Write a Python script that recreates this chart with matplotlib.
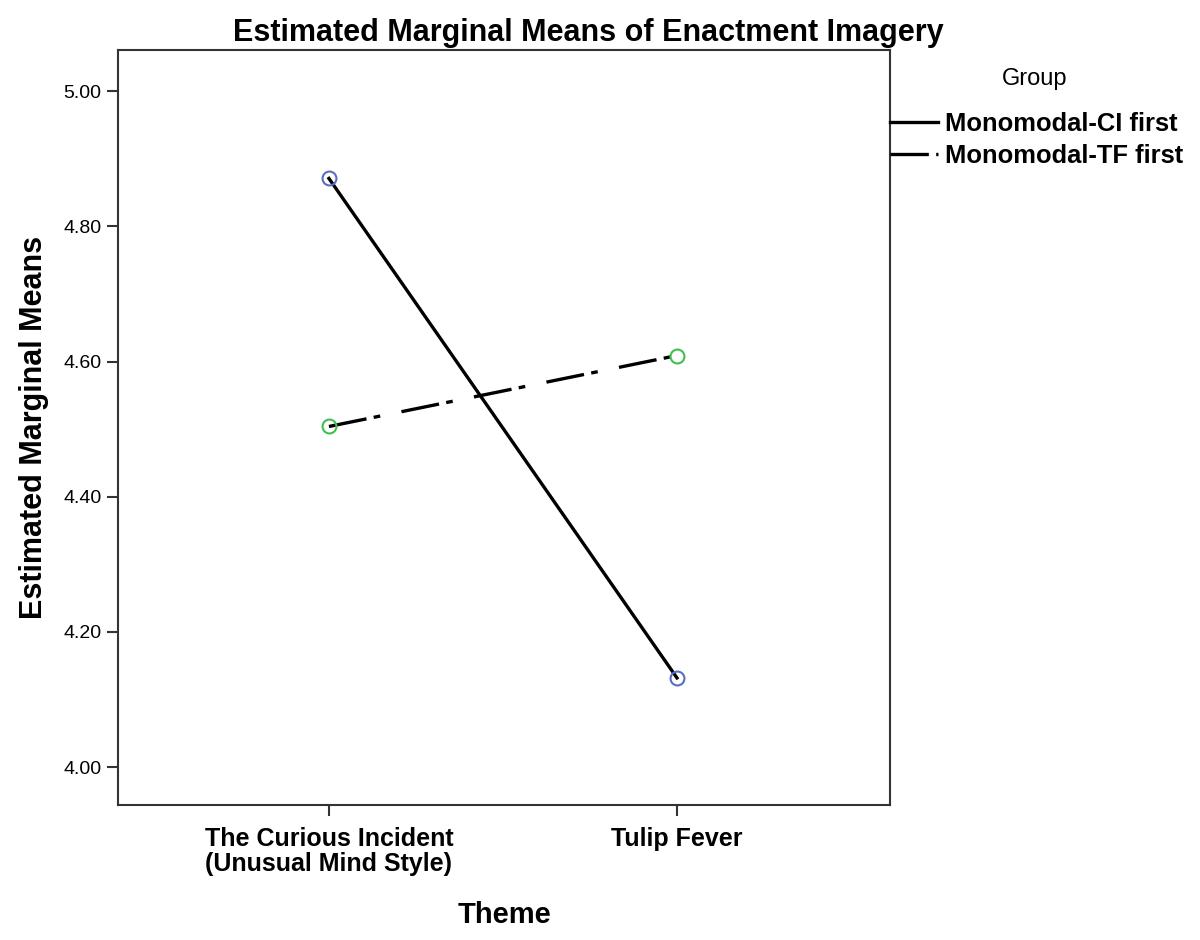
import matplotlib
matplotlib.use("Agg")
import matplotlib.pyplot as plt
from matplotlib.lines import Line2D

categories = ["The Curious Incident\n(Unusual Mind Style)", "Tulip Fever"]
groups = ["Monomodal-CI first", "Monomodal-TF first"]
ci_first = [4.871, 4.132]
tf_first = [4.504, 4.609]
yticks = [4.00, 4.20, 4.40, 4.60, 4.80, 5.00]

plt.rcParams['font.family'] = ['Liberation Sans', 'DejaVu Sans']

DASHDOT = (0, (11.5, 2.2, 2.0, 6.5))

fig = plt.figure(figsize=(12, 9.4), dpi=100)
ax = fig.add_axes([118/1200, 1-805/940, (890-118)/1200, (805-50)/940])

x = list(range(len(categories)))
ax.plot(x, ci_first, color='black', lw=2.4, linestyle='-', zorder=2)
ax.plot(x, tf_first, color='black', lw=2.4, linestyle=DASHDOT, zorder=2)
ax.plot(x, ci_first, linestyle='none', marker='o', ms=10, mfc='none', mec='#5a6cc4', mew=1.5, zorder=3)
ax.plot(x, tf_first, linestyle='none', marker='o', ms=10, mfc='none', mec='#3fbf4f', mew=1.5, zorder=3)

ax.set_xlim(-0.606, 1.612)
ax.set_ylim(3.944, 5.061)
ax.set_xticks(x)
ax.set_xticklabels(categories, fontsize=18, fontweight='bold', linespacing=1.05)
ax.set_yticks(yticks)
ax.set_yticklabels([f"{v:.2f}" for v in yticks], fontsize=14)
ax.tick_params(axis='both', direction='out', length=8, width=1.5, color='#333333', pad=4)
ax.tick_params(axis='x', pad=8)
for s in ax.spines.values():
    s.set_linewidth(1.5)
    s.set_color('#333333')

ax.set_xlabel("Theme", fontsize=21, fontweight='bold', labelpad=18)
ax.set_ylabel("Estimated Marginal Means", fontsize=22, fontweight='bold', labelpad=10)
fig.text(588/1200, 1-33/940, "Estimated Marginal Means of Enactment Imagery",
         fontsize=22, fontweight='bold', ha='center', va='center')

handles = [Line2D([], [], color='black', lw=2.4, linestyle='-'),
           Line2D([], [], color='black', lw=2.4, linestyle=DASHDOT)]
leg = fig.legend(handles, groups, loc='upper left', bbox_to_anchor=(890/1200, 1-112/940),
                 frameon=False, handlelength=1.88, handletextpad=0.27, labelspacing=0.33,
                 prop={'size': 18.4, 'weight': 'bold'}, borderaxespad=0, borderpad=0)
fig.text(1035/1200, 1-79/940, "Group", fontsize=17, ha='center', va='center')

fig.savefig("out.png", dpi=100)
